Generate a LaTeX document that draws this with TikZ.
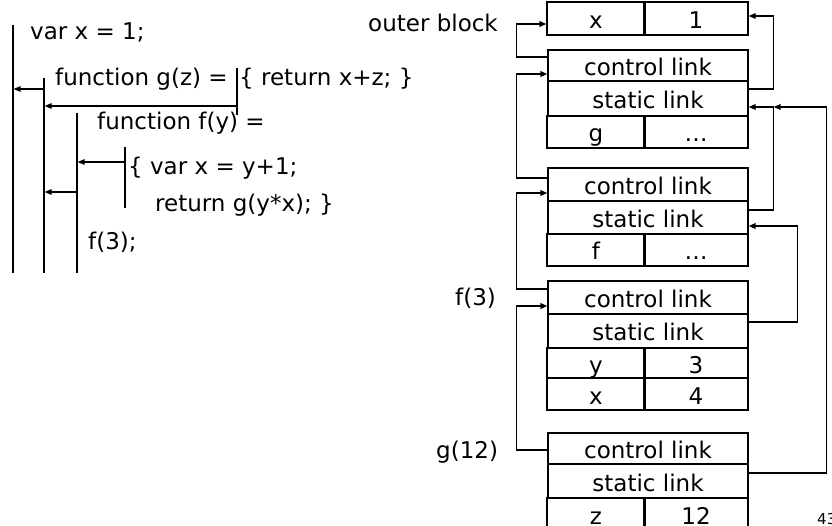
\documentclass[tikz,border=0pt]{standalone}
\usepackage{fontspec}
\setmainfont{DejaVu Sans}
\usetikzlibrary{arrows.meta}
\begin{document}
\begin{tikzpicture}[x=1pt,y=-1pt,
  every node/.style={font=\fontsize{23}{27}\selectfont},
  cell/.style={draw, line width=1.1pt, inner sep=0pt, anchor=center, text height=20pt, text depth=0pt},
  wide/.style={cell, minimum width=200pt},
  half/.style={cell, minimum width=98pt},
  halfr/.style={cell, minimum width=104pt},
  link/.style={line width=1.7pt, -{Triangle[length=7pt,width=5.5pt]}},
  scopeline/.style={line width=1.2pt},
  codearrow/.style={line width=1.3pt, -{Triangle[length=7pt,width=5.5pt]}},
  code/.style={anchor=base west, inner sep=0pt},
  lab/.style={anchor=base west, inner sep=0pt}]
\useasboundingbox (0,0) rectangle (832,526);
\clip (0,0) rectangle (832,526);
\fill[white] (0,0) rectangle (832,526);

% ---- code on the left ----
\node[code] (l1) at (30,40) {var x = 1;};
\node[code] (l2) at (55,86) {function g(z) =};
\node[code] (l2b) at (239,86) {\{ return x+z; \}};
\node[code] (l3) at (97,130) {function f(y) =};
\node[code] (l4) at (128,175) {\{ var x = y+1;};
\node[code] (l5) at (155,212) {return g(y*x); \}};
\node[code] (l6) at (88,250) {f(3);};

\coordinate (v1t) at (13,25);  \coordinate (v1b) at (13,273);
\coordinate (v2t) at (44,78);  \coordinate (v2b) at (44,273);
\coordinate (v3t) at (77,113); \coordinate (v3b) at (77,273);
\coordinate (v4t) at (125,147); \coordinate (v4b) at (125,208);
\coordinate (v5t) at (237,68); \coordinate (v5b) at (237,115);
\draw[scopeline] (v1t) -- (v1b);
\draw[scopeline] (v2t) -- (v2b);
\draw[scopeline] (v3t) -- (v3b);
\draw[scopeline] (v4t) -- (v4b);
\draw[scopeline] (v5t) -- (v5b);

\draw[codearrow] (44,89) -- (13.6,89);
\draw[codearrow] (237,106) -- (44.6,106);
\draw[codearrow] (125,162) -- (77.6,162);
\draw[codearrow] (77,192) -- (44.6,192);

% ---- activation records ----
\node[half]  (ox)  at (596,18.5) [minimum height=33pt] {x};
\node[halfr] (o1)  at (696,18.5) [minimum height=33pt] {1};

\node[wide] (acl) at (648,65.5) [minimum height=31pt] {control link};
\node[wide] (asl) at (648,98.5) [minimum height=35pt] {static link};
\node[half] (ag)  at (596,132) [minimum height=32pt] {g};
\node[halfr] (ad) at (696,132) [minimum height=32pt] {\dots};

\node[wide] (bcl) at (648,184.5) [minimum height=33pt] {control link};
\node[wide] (bsl) at (648,217.5) [minimum height=33pt] {static link};
\node[half] (bf)  at (596,250) [minimum height=32pt] {f};
\node[halfr] (bd) at (696,250) [minimum height=32pt] {\dots};

\node[wide] (ccl) at (648,297.5) [minimum height=33pt] {control link};
\node[wide] (csl) at (648,331) [minimum height=34pt] {static link};
\node[half] (cy)  at (596,363) [minimum height=30pt] {y};
\node[halfr] (c3) at (696,363) [minimum height=30pt] {3};
\node[half] (cx)  at (596,394) [minimum height=32pt] {x};
\node[halfr] (c4) at (696,394) [minimum height=32pt] {4};

\node[wide] (dcl) at (648,448.5) [minimum height=31pt] {control link};
\node[wide] (dsl) at (648,481) [minimum height=34pt] {static link};
\node[half] (dz)  at (596,514.5) [minimum height=33pt] {z};
\node[halfr] (d12) at (696,514.5) [minimum height=33pt] {12};

% labels
\node[lab] (louter) at (368,32) {outer block};
\node[lab] (lf3) at (455,306) {f(3)};
\node[lab] (lg12) at (436,458) {g(12)};
\node[lab, font=\fontsize{15}{18}\selectfont] (pg) at (817,524) {43};

% ---- links ----
\draw[link] ([yshift=8.5pt]acl.west) -- ++(-31,0) |- ([yshift=-5.5pt]ox.west);
\draw[link] ([yshift=9.5pt]asl.east) -- ++(25,0) |- ([yshift=2.5pt]o1.east);
\draw[link] ([yshift=6.5pt]bcl.west) -- ++(-31,0) |- ([yshift=-8.5pt]acl.west);
\draw[link] ([yshift=7.5pt]bsl.east) -- ++(25,0) |- ([yshift=-8.5pt]asl.east);
\coordinate (join) at ([xshift=25pt,yshift=-8.5pt]asl.east);
\draw[link] ([yshift=8pt]dsl.east) -- ++(78,0) |- (join);
\draw[link] ([yshift=9pt]csl.east) -- ++(49,0) |- ([yshift=-8.5pt]bsl.east);
\draw[link] ([yshift=8.5pt]ccl.west) -- ++(-31,0) |- ([yshift=-8.5pt]bcl.west);
\draw[link] ([yshift=-1.5pt]dcl.west) -- ++(-31,0) |- ([yshift=-8.5pt]ccl.west);
\end{tikzpicture}
\end{document}
